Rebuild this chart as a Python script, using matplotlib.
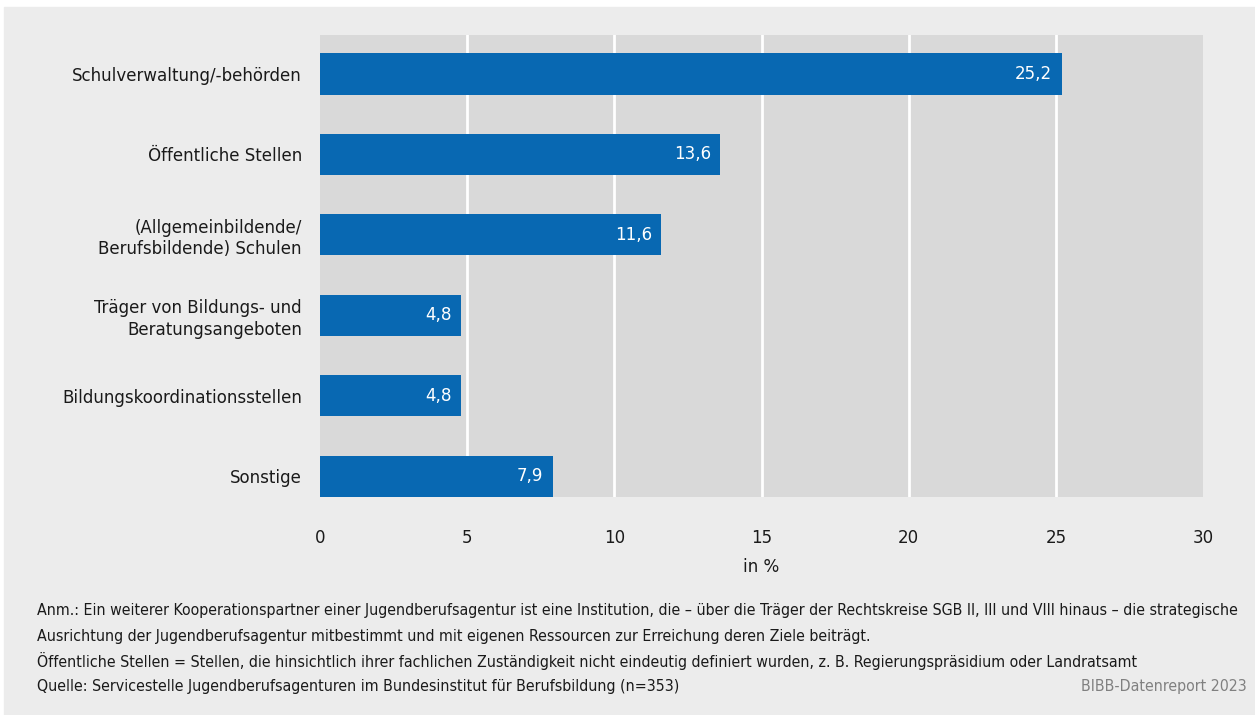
import matplotlib.pyplot as plt
from matplotlib import font_manager

# Data
categories = ['Schulverwaltung/-behörden', 'Öffentliche Stellen',
              '(Allgemeinbildende/\nBerufsbildende) Schulen',
              'Träger von Bildungs- und\nBeratungsangeboten',
              'Bildungskoordinationsstellen', 'Sonstige']
values = [25.2, 13.6, 11.6, 4.8, 4.8, 7.9]
xticks = [0, 5, 10, 15, 20, 25, 30]

notes = [
    'Anm.: Ein weiterer Kooperationspartner einer Jugendberufsagentur ist eine Institution, die \u2013 über die Träger der Rechtskreise SGB II, III und VIII hinaus \u2013 die strategische',
    'Ausrichtung der Jugendberufsagentur mitbestimmt und mit eigenen Ressourcen zur Erreichung deren Ziele beiträgt.',
    'Öffentliche Stellen = Stellen, die hinsichtlich ihrer fachlichen Zuständigkeit nicht eindeutig definiert wurden, z. B. Regierungspräsidium oder Landratsamt',
    'Quelle: Servicestelle Jugendberufsagenturen im Bundesinstitut für Berufsbildung (n=353)',
]

# look for a narrow / condensed regular font
cands = []
for f in font_manager.fontManager.ttflist:
    n = (f.name + ' ' + f.fname).lower()
    if ('condensed' in n or 'narrow' in n or f.stretch in ('condensed', 'semi-condensed')) \
            and f.weight in (400, 'normal', 'regular') and f.style == 'normal':
        cands.append(f)
if cands:
    cands.sort(key=lambda f: ('bold' in f.fname.lower(), 'light' in f.fname.lower()))
    font_manager.fontManager.addfont(cands[0].fname)
    fam = cands[0].name
    stretch = cands[0].stretch
    scale = 1.0
else:
    fam = 'Liberation Sans'
    stretch = 'normal'
    scale = 0.86
plt.rcParams['font.family'] = [fam, 'DejaVu Sans']
plt.rcParams['font.stretch'] = stretch

fs = 13.3 * scale
fs_note = 11.4 * scale

bg = '#ececec'
bar_color = '#0868b2'
txt = '#1a1a1a'

fig = plt.figure(figsize=(12.55, 7.15), dpi=100, facecolor='white')
# gray panel behind everything (white strip on top)
fig.patches.append(plt.Rectangle((4 / 1255, 0), 1, 1 - 7 / 715,
                                 transform=fig.transFigure, color=bg, zorder=-10))

ax = fig.add_axes([320 / 1255, 1 - 497 / 715, 883 / 1255, 462 / 715])
ax.set_facecolor('#d9d9d9')

pos = list(range(len(categories)))
ax.barh(pos, values, height=0.51, color=bar_color, zorder=3)

for y, v in zip(pos, values):
    ax.text(v - 0.32, y, f'{v:.1f}'.replace('.', ','), ha='right', va='center',
            color='white', fontsize=fs, zorder=4)

ax.set_xlim(0, 30)
ax.set_ylim(5.26, -0.485)
ax.set_xticks(xticks)
ax.set_xticklabels([str(t) for t in xticks], fontsize=fs, color=txt)
ax.set_yticks(pos)
ax.set_yticklabels(categories, fontsize=fs, color=txt, linespacing=1.25)
ax.tick_params(axis='both', length=0)
ax.tick_params(axis='y', pad=13)
ax.tick_params(axis='x', pad=23)
for t in ax.get_yticklabels():
    t.set_multialignment('right')
ax.set_xlabel('in %', fontsize=fs, color=txt, labelpad=8)

for x in xticks[1:-1]:
    ax.axvline(x, color='white', linewidth=2, zorder=1)

for s in ax.spines.values():
    s.set_visible(False)

y0 = 611
for i, line in enumerate(notes):
    fig.text(37 / 1255, 1 - (y0 + i * 25) / 715, line, fontsize=fs_note,
             color=txt, va='center', ha='left')
fig.text(1247 / 1255, 1 - (y0 + 3 * 25) / 715, 'BIBB-Datenreport 2023',
         fontsize=fs_note, color='#808080', va='center', ha='right')

fig.savefig('out.png', dpi=100, facecolor='white')
